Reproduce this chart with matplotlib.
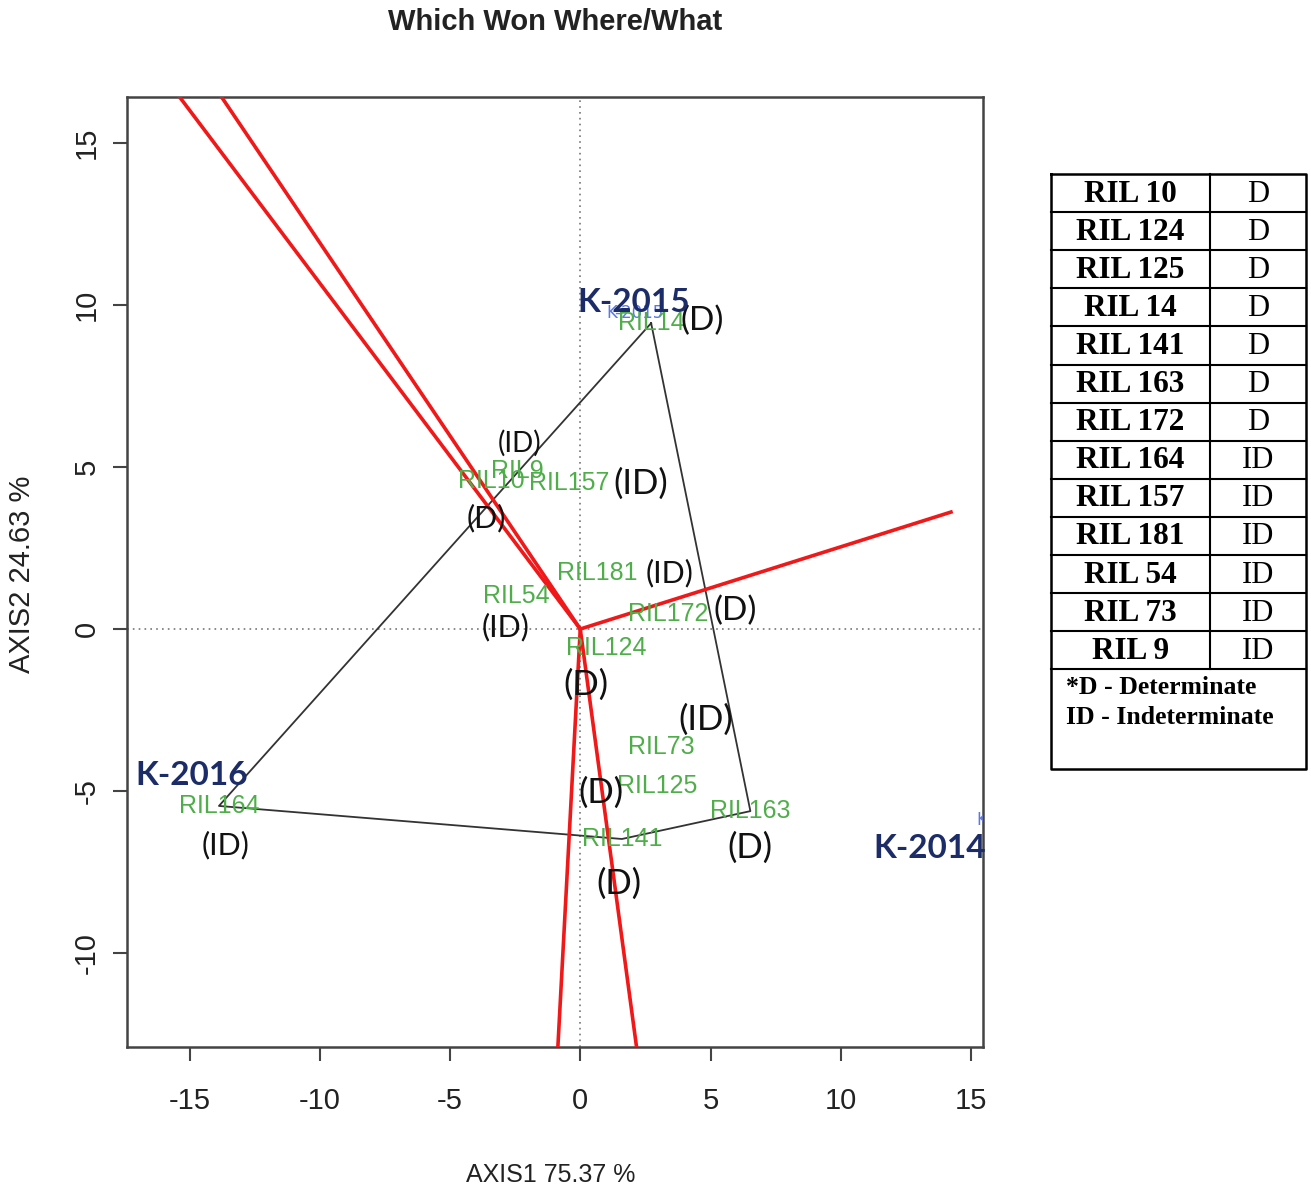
import matplotlib
matplotlib.use('Agg')
import matplotlib.pyplot as plt
from matplotlib import font_manager

# fonts
names_installed = {f.name for f in font_manager.fontManager.ttflist}
narrow = 'Liberation Sans Narrow' if 'Liberation Sans Narrow' in names_installed else 'Liberation Sans'
calib = 'Lato'

# genotypes (label, x, y)
gen_names = ['RIL14', 'RIL10', 'RIL9', 'RIL157', 'RIL181', 'RIL54', 'RIL172',
             'RIL124', 'RIL73', 'RIL125', 'RIL163', 'RIL141', 'RIL164']
gen_x = [2.72, -3.43, -2.43, -0.44, 0.67, -2.47, 3.39, 0.98, 3.12, 2.97, 6.53, 1.60, -13.87]
gen_y = [9.44, 4.57, 4.88, 4.51, 1.73, 1.02, 0.46, -0.59, -3.64, -4.85, -5.62, -6.48, -5.46]

# polygon vertices (indices into genotypes)
hull = [0, 10, 11, 12, 0]

# environments
env_names = ['K-2015', 'K-2016', 'K-2014']
env_x = [2.05, -14.92, 13.43]
env_y = [10.09, -4.51, -6.76]

# rays from origin
ray_x = [-15.38, -13.77, 14.23, -0.86, 2.16]
ray_y = [16.42, 16.42, 3.61, -12.9, -12.9]

# black annotations
ann_text = ['(D)', '(ID)', '(ID)', '(D)', '(ID)', '(D)', '(ID)', '(D)', '(ID)',
            '(D)', '(D)', '(D)', '(ID)']
ann_x = [4.69, -2.32, 2.32, -3.62, 3.43, 5.96, -2.85, 0.21, 4.81, 0.79, 6.53, 1.48, -13.62]
ann_y = [9.51, 5.74, 4.48, 3.43, 1.73, 0.56, 0.06, -1.73, -2.81, -5.06, -6.76, -7.87, -6.67]
ann_size = [24, 20, 25, 22, 22, 24, 22, 25, 25, 25, 25, 25, 22]

# table
tab_names = ['RIL 10', 'RIL 124', 'RIL 125', 'RIL 14', 'RIL 141', 'RIL 163', 'RIL 172',
             'RIL 164', 'RIL 157', 'RIL 181', 'RIL 54', 'RIL 73', 'RIL 9']
tab_types = ['D', 'D', 'D', 'D', 'D', 'D', 'D', 'ID', 'ID', 'ID', 'ID', 'ID', 'ID']
notes = ['*D - Determinate', 'ID - Indeterminate']

W, H = 1311, 1194
fig = plt.figure(figsize=(W / 100, H / 100), dpi=100)
ax = fig.add_axes([127 / W, 1 - 1047 / H, (983 - 127) / W, (1047 - 97) / H])
ax.set_xlim(-17.4, 15.46)
ax.set_ylim(-12.9, 16.42)

ax.axhline(0, color='#777777', ls=(0, (1, 2.5)), lw=1.2, zorder=1)
ax.axvline(0, color='#777777', ls=(0, (1, 2.5)), lw=1.2, zorder=1)

for rx, ry in zip(ray_x, ray_y):
    ax.plot([0, rx], [0, ry], color='#f01818', lw=2.6, zorder=3)

ax.plot([gen_x[i] for i in hull], [gen_y[i] for i in hull], color='#333333', lw=1.3, zorder=2)

for n, x, y in zip(gen_names, gen_x, gen_y):
    ax.text(x, y, n, color='#4fae4a', fontsize=18, family=narrow,
            ha='center', va='center', zorder=4)

for t, x, y, s in zip(ann_text, ann_x, ann_y, ann_size):
    ax.text(x, y, t, color='#111111', fontsize=s, family=calib,
            ha='center', va='center', zorder=5)

# small original environment labels, mostly hidden
ax.text(2.1, 9.75, 'K-2015', color='#5b78e8', fontsize=12, ha='center', va='center', zorder=3)
ax.text(15.19, -5.9, 'K-2014', color='#5b78e8', fontsize=12, ha='left', va='center',
        zorder=3, clip_on=True)

for n, x, y in zip(env_names, env_x, env_y):
    ax.text(x, y, n, color='#1b2c68', fontsize=24, family=calib, weight='bold',
            ha='center', va='center', zorder=6)

for s in ax.spines.values():
    s.set_color('#444444')
    s.set_linewidth(1.8)
ax.set_xticks([-15, -10, -5, 0, 5, 10, 15])
ax.set_yticks([-10, -5, 0, 5, 10, 15])
ax.set_xticklabels(['-15', '-10', '-5', '0', '5', '10', '15'], family=narrow, fontsize=21)
ax.set_yticklabels(['-10', '-5', '0', '5', '10', '15'], family=narrow, fontsize=21,
                   rotation=90, va='center')
ax.tick_params(axis='x', length=10, width=1.5, color='#444444', pad=19, labelcolor='#222222')
ax.tick_params(axis='y', length=10, width=1.5, color='#444444', pad=9, labelcolor='#222222')

fig.text(555 / W, 1 - 22 / H, 'Which Won Where/What', ha='center', va='center',
         fontsize=21, weight='bold', family=narrow, color='#222222')
fig.text(551 / W, 1 - 1175 / H, 'AXIS1 75.37 %', ha='center', va='center',
         fontsize=18, family=narrow, color='#222222')
fig.text(22 / W, 1 - 574 / H, 'AXIS2 24.63 %', ha='center', va='center',
         fontsize=21, family=narrow, color='#222222', rotation=90)

# table drawn in pixel coords
tx = fig.add_axes([0, 0, 1, 1])
tx.set_xlim(0, W)
tx.set_ylim(H, 0)
tx.axis('off')
left, mid, right, top, rh, bottom = 1051, 1210, 1306, 174, 38.1, 769
tx.plot([left, right, right, left, left], [top, top, bottom, bottom, top], color='black', lw=1.8)
tx.plot([mid, mid], [top, top + rh * len(tab_names)], color='black', lw=1.5)
for i in range(1, len(tab_names) + 1):
    tx.plot([left, right], [top + rh * i, top + rh * i], color='black', lw=1.5)
for i, (n, t) in enumerate(zip(tab_names, tab_types)):
    yc = top + rh * (i + 0.5)
    tx.text((left + mid) / 2, yc + 1, n, ha='center', va='center', fontsize=22.5,
            family='Liberation Serif', weight='bold')
    tx.text((mid + right) / 2, yc + 1, t, ha='center', va='center', fontsize=22,
            family='Liberation Serif')
for j, n in enumerate(notes):
    tx.text(1066, 687 + 31 * j, n, ha='left', va='center', fontsize=18.5,
            family='Liberation Serif', weight='bold')

fig.savefig('out.png', dpi=100)
